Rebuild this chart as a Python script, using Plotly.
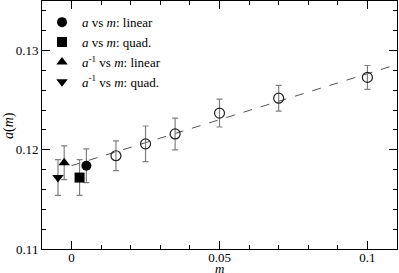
import plotly.graph_objects as go

# Open-circle data (a vs m)
m_vals = [0.015, 0.025, 0.035, 0.05, 0.07, 0.1]
a_vals = [0.1194, 0.1206, 0.1216, 0.1237, 0.1252, 0.1273]
a_errs = [0.0015, 0.0018, 0.0016, 0.0014, 0.0013, 0.0012]

# Chiral-extrapolated points
ext_names = ["<i>a</i> vs <i>m</i>: linear",
             "<i>a</i> vs <i>m</i>: quad.",
             "<i>a</i><sup>-1</sup> vs <i>m</i>: linear",
             "<i>a</i><sup>-1</sup> vs <i>m</i>: quad."]
ext_m = [0.005, 0.0027, -0.0025, -0.0046]
ext_a = [0.1184, 0.1172, 0.1187, 0.1172]
ext_err = [0.0017, 0.0018, 0.0017, 0.0018]
ext_symbols = ["circle", "square", "triangle-up", "triangle-down"]

# Linear fit line
fit_m = [0.0, 0.11]
fit_a = [0.1184, 0.1286]

x_tickvals = [0, 0.05, 0.1]
x_ticktext = ["0", "0.05", "0.1"]
y_tickvals = [0.11, 0.12, 0.13]
y_ticktext = ["0.11", "0.12", "0.13"]

FONT = "Liberation Serif"
ERRC = "#808080"

fig = go.Figure()

fig.add_trace(go.Scatter(x=fit_m, y=fit_a, mode="lines",
                         line=dict(color="#555555", width=1, dash="dash"),
                         showlegend=False, hoverinfo="skip"))

fig.add_trace(go.Scatter(x=m_vals, y=a_vals, mode="markers",
                         marker=dict(symbol="circle-open", size=10,
                                     color="#222222", line=dict(width=1.2, color="#222222")),
                         error_y=dict(type="data", array=a_errs, color=ERRC,
                                      thickness=1.2, width=3),
                         showlegend=False))

for name, mx, ay, er, sym in zip(ext_names, ext_m, ext_a, ext_err, ext_symbols):
    fig.add_trace(go.Scatter(x=[mx], y=[ay], mode="markers", name=name,
                             marker=dict(symbol=sym, size=10, color="black"),
                             error_y=dict(type="data", array=[er], color=ERRC,
                                          thickness=1.2, width=3)))

axis_common = dict(showline=True, linecolor="black", linewidth=1, mirror="allticks",
                   ticks="inside", tickcolor="black", ticklen=8, tickwidth=1,
                   showgrid=False, zeroline=False, automargin=False,
                   tickfont=dict(family=FONT, size=13, color="black"))

fig.update_xaxes(range=[-0.01, 0.11], tickvals=x_tickvals, ticktext=x_ticktext,
                 minor=dict(dtick=0.01, tick0=0, ticks="inside", ticklen=4,
                            tickcolor="black", showgrid=False),
                 ticklabelstandoff=-4,
                 **axis_common)
fig.update_yaxes(range=[0.11, 0.135], tickvals=y_tickvals, ticktext=y_ticktext,
                 minor=dict(dtick=0.002, tick0=0.11, ticks="inside", ticklen=4,
                            tickcolor="black", showgrid=False),
                 **axis_common)

fig.add_annotation(text="<i>m</i>", xref="paper", yref="paper", x=0.5, y=-0.08,
                   xanchor="center", yanchor="middle", showarrow=False,
                   font=dict(family=FONT, size=13, color="black"))
fig.add_annotation(text="<i>a</i>(<i>m</i>)", xref="paper", yref="paper", x=-0.093, y=0.5,
                   xanchor="center", yanchor="middle", showarrow=False, textangle=-90,
                   font=dict(family=FONT, size=14, color="black"))

fig.update_layout(width=399, height=273,
                  margin=dict(l=42, r=2, t=1, b=24),
                  plot_bgcolor="white", paper_bgcolor="white",
                  font=dict(family=FONT, size=12, color="black"),
                  legend=dict(x=0.0, y=0.975, xanchor="left", yanchor="top",
                              bgcolor="rgba(0,0,0,0)", itemwidth=30,
                              font=dict(family=FONT, size=13, color="black"),
                              tracegroupgap=0))

fig.write_html("out.html", config={"displayModeBar": False},
               post_script="document.body.style.margin='0';document.body.style.overflow='hidden';")
